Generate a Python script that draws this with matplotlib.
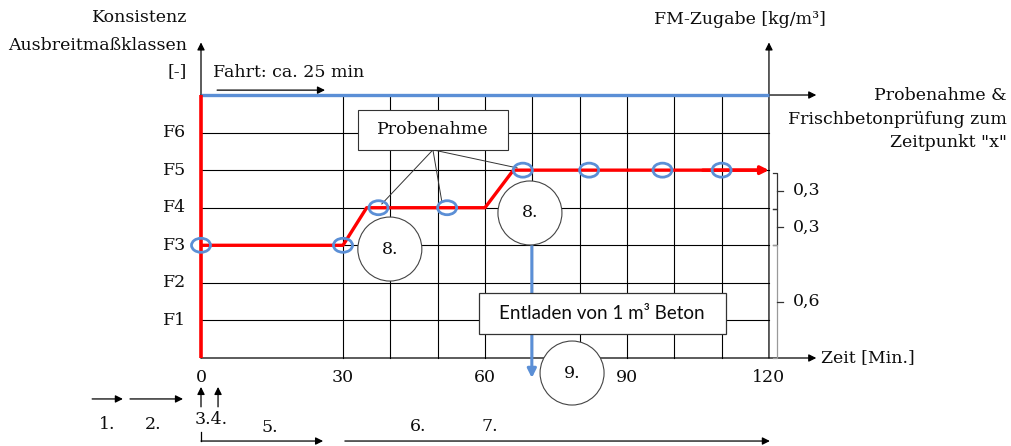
import matplotlib
matplotlib.use('Agg')
import matplotlib.pyplot as plt
from matplotlib.patches import Ellipse, Rectangle

# ---------------- data ----------------
classes = ['F1', 'F2', 'F3', 'F4', 'F5', 'F6']
class_levels = [1, 2, 3, 4, 5, 6]
x_ticks = [0, 30, 60, 90, 120]
grid_times = [30, 40, 50, 60, 70, 80, 90, 100, 110]
line_times = [0, 30, 35, 60, 66, 120]
line_classes = [3, 3, 4, 4, 5, 5]
sample_times = [0, 30, 37.5, 52, 68, 82, 97.5, 110]
sample_classes = [3, 3, 4, 4, 5, 5, 5, 5]
fm_labels = ['0,3', '0,3', '0,6']
fm_edges = [4.93, 3.97, 3.0, 0.0]
step_labels = ['1.', '2.', '3.4.', '5.', '6.', '7.']

# ---------------- figure ----------------
W, H = 1011, 446
fig = plt.figure(figsize=(W / 100, H / 100), dpi=100)
ax = fig.add_axes([0, 0, 1, 1])
SX, SY = 4.733, 37.57          # px per minute, px per class
X0, Y0 = 201, 358              # pixel of origin
ax.set_xlim(-X0 / SX, (W - X0) / SX)
ax.set_ylim((Y0 - H) / SY, Y0 / SY)
ax.axis('off')

SERIF = 'DejaVu Serif'
FS = 12.5
TXT = '#0d0d0d'
BLUE = '#5B8FD6'
RED = '#FF0000'

def arrow(x0, y0, x1, y1, color='black', lw=0.9, ms=11, z=3):
    ax.annotate('', xy=(x1, y1), xytext=(x0, y0),
                arrowprops=dict(arrowstyle='-|>', color=color, lw=lw,
                                mutation_scale=ms, shrinkA=0, shrinkB=0),
                zorder=z)

def label(x, y, s, ha='center', fs=FS, family=SERIF, z=7):
    ax.text(x, y, s, ha=ha, va='center', fontsize=fs, family=family, color=TXT, zorder=z)

TOP = 7
# grid
for lv in class_levels:
    ax.plot([0, 120], [lv, lv], color='black', lw=0.8, zorder=1)
for t in grid_times:
    ax.plot([t, t], [0, TOP], color='black', lw=0.8, zorder=1)

# axes
arrow(0, 0, 130, 0)
arrow(0, 0, 0, 8.4)
arrow(120, 0, 120, 8.4)
arrow(0, TOP, 130, TOP)
ax.plot([0, 120], [TOP, TOP], color=BLUE, lw=2.4, zorder=3, solid_capstyle='butt')
ax.plot([0, 0], [0, TOP], color=RED, lw=2.6, zorder=3, solid_capstyle='butt')

# consistency line
ax.plot(line_times[:-1] + [line_times[-1] - 2], line_classes, color=RED, lw=2.4,
        zorder=3, solid_capstyle='butt')
arrow(line_times[-2] + 40, line_classes[-1], line_times[-1], line_classes[-1],
      color=RED, lw=2.4, ms=12, z=3)

# sampling markers
for t, c in zip(sample_times, sample_classes):
    ax.add_patch(Ellipse((t, c), 19 / SX, 14 / SY, fill=False, edgecolor=BLUE,
                         lw=2.0, zorder=5))

# tick labels
for lv, lab in zip(class_levels, classes):
    label(-3.2, lv, lab, ha='right')
for t in x_ticks:
    label(t, -0.51, str(t))

# axis titles
for y, s in zip([9.05, 8.33, 7.61], ['Konsistenz', 'Ausbreitmaßklassen', '[-]']):
    label(-2.96, y, s, ha='right')
label(113.9, 9.0, 'FM-Zugabe [kg/m³]')
for y, s in zip([7.0, 6.35, 5.74], ['Probenahme &', 'Frischbetonprüfung zum', 'Zeitpunkt "x"']):
    label(170.3, y, s, ha='right')
label(130.9, 0.0, 'Zeit [Min.]', ha='left')

# Fahrt
label(2.5, 7.59, 'Fahrt: ca. 25 min', ha='left')
arrow(3.4, 7.13, 26.2, 7.13)

# Probenahme box + leader lines
ax.add_patch(Rectangle((33.2, 5.54), 31.7, 1.06, facecolor='white', edgecolor='#333333',
                       lw=0.8, zorder=6))
label(49.0, 6.07, 'Probenahme')
for ex, ey in [(38.2, 4.10), (50.9, 4.15), (66.8, 5.06)]:
    ax.plot([49.0, ex], [5.54, ey], color='#333333', lw=0.7, zorder=4)

# FM brackets
for i, lab in enumerate(fm_labels):
    top, bot = fm_edges[i], fm_edges[i + 1]
    col = '#333333' if i < 2 else '#9a9a9a'
    ax.plot([120.9, 121.7, 121.7, 120.9], [top, top, bot, bot], color=col, lw=0.9, zorder=3)
    mid = (top + bot) / 2
    ax.plot([121.7, 123.0], [mid, mid], color='#333333', lw=0.9, zorder=3)
    label(125.1, mid, lab, ha='left')

# blue unloading arrow
arrow(69.9, 3.0, 69.9, -0.53, color=BLUE, lw=2.2, ms=13, z=3)
ax.add_patch(Rectangle((58.7, 0.64), 52.2, 1.09, facecolor='white', edgecolor='#333333',
                       lw=0.9, zorder=6))
label(84.7, 1.19, 'Entladen von 1 m³ Beton', fs=13.5, family='Lato')

# numbered circles
R = 32
for (cx, cy), lab in [((39.9, 2.90), '8.'), ((69.5, 3.86), '8.'), ((78.4, -0.40), '9.')]:
    ax.add_patch(Ellipse((cx, cy), 2 * R / SX, 2 * R / SY, facecolor='white',
                         edgecolor='#444444', lw=0.8, zorder=6))
    label(cx, cy, lab)

# process steps below axis
arrow(-23.0, -1.09, -16.5, -1.09)
arrow(-15.0, -1.09, -3.8, -1.09)
label(-19.9, -1.78, step_labels[0])
label(-10.1, -1.78, step_labels[1])
arrow(0, -1.30, 0, -0.77)
arrow(3.6, -1.30, 3.6, -0.77)
label(2.2, -1.65, step_labels[2])
label(14.6, -1.84, step_labels[3])
ax.plot([0, 0], [-1.97, -2.21], color='black', lw=0.9)
arrow(0, -2.21, 25.8, -2.21)
label(45.8, -1.81, step_labels[4])
label(61.1, -1.81, step_labels[5])
arrow(30.4, -2.21, 120.2, -2.21)

fig.savefig('out.png', dpi=100)
